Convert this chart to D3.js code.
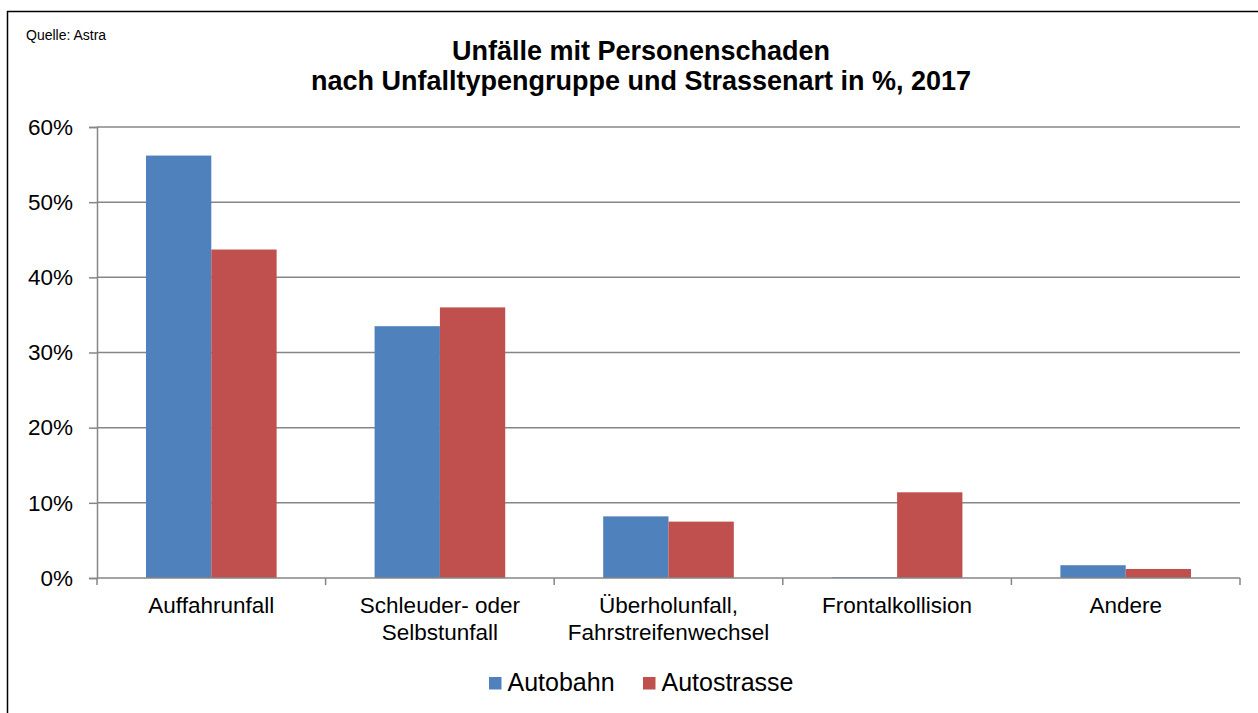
<!DOCTYPE html>
<html>
<head>
<meta charset="utf-8">
<script src="https://cdn.jsdelivr.net/npm/d3@7"></script>
<style>
  body { margin: 0; background: #fff; }
  text { font-family: "Liberation Sans", Arial, sans-serif; fill: #000; }
</style>
</head>
<body>
<svg id="chart" width="1258" height="713"></svg>
<script>
// categories (line breaks as in the original axis labels)
const categories = [
  ["Auffahrunfall"],
  ["Schleuder- oder", "Selbstunfall"],
  ["Überholunfall,", "Fahrstreifenwechsel"],
  ["Frontalkollision"],
  ["Andere"]
];
const seriesNames = ["Autobahn", "Autostrasse"];
const autobahn = [56.2, 33.5, 8.2, 0.1, 1.7];
const autostrasse = [43.7, 36.0, 7.5, 11.4, 1.2];
const yTicks = [0, 10, 20, 30, 40, 50, 60];
const colors = ["#4F81BD", "#C0504D"];

const svg = d3.select("#chart");

const margin = { top: 127, left: 97, right: 1240, bottom: 578 };

// outer frame
svg.append("rect")
  .attr("x", 7.5).attr("y", 11.5)
  .attr("width", 1300).attr("height", 800)
  .attr("fill", "none").attr("stroke", "#000").attr("stroke-width", 1.5);

svg.append("text").attr("x", 26).attr("y", 40)
  .style("font-size", "14px").text("Quelle: Astra");

svg.append("text").attr("x", 641).attr("y", 60)
  .attr("text-anchor", "middle")
  .style("font-size", "27px").style("font-weight", "bold")
  .text("Unfälle mit Personenschaden");
svg.append("text").attr("x", 641).attr("y", 90)
  .attr("text-anchor", "middle")
  .style("font-size", "27px").style("font-weight", "bold")
  .text("nach Unfalltypengruppe und Strassenart in %, 2017");

const keys = categories.map((c, i) => i);
const x = d3.scaleBand().domain(keys).range([margin.left, margin.right]).paddingInner(0).paddingOuter(0);
const barW = x.bandwidth() / 3.5;
const xs = d3.scaleBand().domain([0, 1]).range([0, 2 * barW]);

const y = d3.scaleLinear().domain([0, 60]).range([margin.bottom, margin.top]);

// gridlines
svg.append("g")
  .selectAll("line")
  .data(yTicks.filter(d => d > 0))
  .join("line")
  .attr("x1", margin.left).attr("x2", margin.right)
  .attr("y1", d => y(d)).attr("y2", d => y(d))
  .attr("stroke", "#868686").attr("stroke-width", 1.5);

// y axis
const yAxis = svg.append("g")
  .attr("transform", `translate(${margin.left},0)`)
  .call(d3.axisLeft(y).tickValues(yTicks).tickFormat(d => d + "%").tickSize(8).tickPadding(16));
yAxis.select(".domain").attr("stroke", "#868686").attr("stroke-width", 1.5);
yAxis.selectAll(".tick line").attr("stroke", "#868686").attr("stroke-width", 1.5);
yAxis.selectAll(".tick text").style("font-size", "22.5px").attr("font-family", null);

// bars
const data = keys.map(i => [autobahn[i], autostrasse[i]]);
const groups = svg.append("g").selectAll("g")
  .data(data)
  .join("g")
  .attr("transform", (d, i) => `translate(${x(i) + (x.bandwidth() - 2 * barW) / 2},0)`);
groups.selectAll("rect")
  .data(d => d)
  .join("rect")
  .attr("x", (d, j) => xs(j))
  .attr("width", barW)
  .attr("y", d => y(d))
  .attr("height", d => y(0) - y(d))
  .attr("fill", (d, j) => colors[j]);

// x axis: baseline and category boundary ticks
const xAxis = svg.append("g");
xAxis.append("line")
  .attr("x1", margin.left).attr("x2", margin.right)
  .attr("y1", y(0)).attr("y2", y(0))
  .attr("stroke", "#868686").attr("stroke-width", 1.5);
xAxis.selectAll(".xt")
  .data(keys.concat([keys.length]))
  .join("line")
  .attr("class", "xt")
  .attr("x1", i => i < keys.length ? x(i) : margin.right)
  .attr("x2", i => i < keys.length ? x(i) : margin.right)
  .attr("y1", y(0)).attr("y2", y(0) + 7)
  .attr("stroke", "#868686").attr("stroke-width", 1.5);

xAxis.selectAll(".xl")
  .data(categories)
  .join("text")
  .attr("class", "xl")
  .attr("text-anchor", "middle")
  .attr("x", (d, i) => x(i) + x.bandwidth() / 2)
  .attr("y", 613)
  .style("font-size", "22.5px")
  .selectAll("tspan")
  .data(d => d)
  .join("tspan")
  .attr("x", function () { return d3.select(this.parentNode).attr("x"); })
  .attr("dy", (d, k) => k === 0 ? 0 : 27)
  .text(d => d);

// legend
const legendItems = [
  { name: seriesNames[0], color: colors[0], x: 489 },
  { name: seriesNames[1], color: colors[1], x: 643 }
];
const lg = svg.append("g").selectAll("g").data(legendItems).join("g")
  .attr("transform", d => `translate(${d.x},677)`);
lg.append("rect").attr("width", 12.5).attr("height", 12.5).attr("fill", d => d.color);
lg.append("text").attr("x", 18.5).attr("y", 14)
  .style("font-size", "25px").text(d => d.name);
</script>
</body>
</html>
